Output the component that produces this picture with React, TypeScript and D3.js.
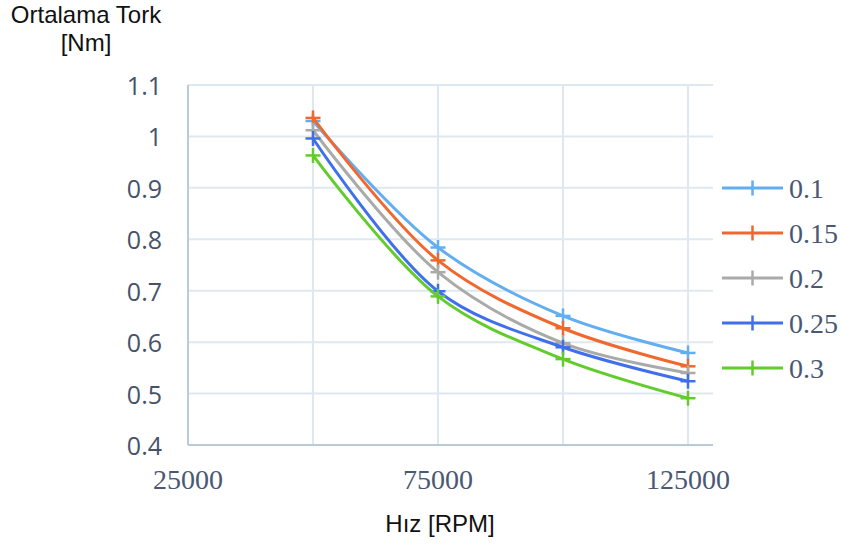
import React from "react";
import * as d3 from "d3";

const speeds = [50000, 75000, 100000, 125000];
const seriesNames = ["0.1", "0.15", "0.2", "0.25", "0.3"];
const series01 = [1.03, 0.784, 0.651, 0.579];
const series015 = [1.036, 0.759, 0.627, 0.553];
const series02 = [1.012, 0.736, 0.598, 0.54];
const series025 = [0.996, 0.699, 0.59, 0.524];
const series03 = [0.963, 0.689, 0.567, 0.491];
const seriesColors = ["#62aef0", "#f0682e", "#a9aba9", "#3f6fec", "#62cc2c"];
const yTicks = [0.4, 0.5, 0.6, 0.7, 0.8, 0.9, 1, 1.1];
const xGrid = [25000, 50000, 75000, 100000, 125000];
const xTickLabels = [25000, 75000, 125000];

const allSeries = [series01, series015, series02, series025, series03];

const SERIF = "'Liberation Serif', 'Times New Roman', 'DejaVu Serif', serif";

export default function App() {
  const x = d3.scaleLinear().domain([25000, 130000]).range([188, 713]);
  const y = d3.scaleLinear().domain([0.4, 1.1]).range([445, 85]);
  const line = d3
    .line<number>()
    .x((_, i) => x(speeds[i]))
    .y((d) => y(d))
    .curve(d3.curveCatmullRom.alpha(0.5));
  const ms = 7.5;
  const legendY = (i: number) => 188 + i * 45;
  return (
    <svg width={841} height={545} style={{ position: "absolute", left: 0, top: 0, background: "#fff" }}>
      {yTicks.map((t) => (
        <line key={"gy" + t} x1={x(25000)} x2={x(130000)} y1={y(t)} y2={y(t)} stroke="#dfe8f0" strokeWidth={2} />
      ))}
      {xGrid.map((t) => (
        <line key={"gx" + t} x1={x(t)} x2={x(t)} y1={y(0.4)} y2={y(1.1)} stroke="#dfe8f0" strokeWidth={2} />
      ))}
      <line x1={x(25000)} x2={x(25000)} y1={y(0.4)} y2={y(1.1)} stroke="#b9cadb" strokeWidth={2} />
      <line x1={x(25000)} x2={x(130000)} y1={y(0.4)} y2={y(0.4)} stroke="#b9cadb" strokeWidth={2} />
      {yTicks.map((t) => (
        <text
          key={"yl" + t}
          x={162}
          y={y(t)}
          textAnchor="end"
          dominantBaseline="central"
          fontFamily="'Open Sans', sans-serif"
          fontSize={25}
          fill="#46526a"
        >
          {d3.format("")(t)}
        </text>
      ))}
      {xTickLabels.map((t) => (
        <text
          key={"xl" + t}
          x={x(t)}
          y={489}
          textAnchor="middle"
          style={{ fontFamily: SERIF }}
          fontSize={28}
          fill="#4a5874"
        >
          {t}
        </text>
      ))}
      {allSeries.map((s, si) => (
        <g key={"s" + si}>
          <path d={line(s) || ""} fill="none" stroke={seriesColors[si]} strokeWidth={3} />
          {s.map((v, i) => (
            <g key={i} stroke={seriesColors[si]} strokeWidth={2.5}>
              <line x1={x(speeds[i]) - ms} x2={x(speeds[i]) + ms} y1={y(v)} y2={y(v)} />
              <line x1={x(speeds[i])} x2={x(speeds[i])} y1={y(v) - ms} y2={y(v) + ms} />
            </g>
          ))}
        </g>
      ))}
      {seriesNames.map((n, i) => (
        <g key={"lg" + n}>
          <line x1={722} x2={783} y1={legendY(i)} y2={legendY(i)} stroke={seriesColors[i]} strokeWidth={3} />
          <line x1={752.5} x2={752.5} y1={legendY(i) - ms} y2={legendY(i) + ms} stroke={seriesColors[i]} strokeWidth={2.5} />
          <text
            x={789}
            y={legendY(i)}
            dominantBaseline="central"
            style={{ fontFamily: SERIF }}
            fontSize={28}
            fill="#4a5874"
          >
            {n}
          </text>
        </g>
      ))}
      <text x={86} y={23} textAnchor="middle" fontFamily="'Liberation Sans', Arial, sans-serif" fontSize={24} fill="#111">
        Ortalama Tork
      </text>
      <text x={86} y={51} textAnchor="middle" fontFamily="'Liberation Sans', Arial, sans-serif" fontSize={24} fill="#111">
        [Nm]
      </text>
      <text x={440} y={532} textAnchor="middle" fontFamily="'Liberation Sans', Arial, sans-serif" fontSize={24} fill="#111">
        Hız [RPM]
      </text>
    </svg>
  );
}
